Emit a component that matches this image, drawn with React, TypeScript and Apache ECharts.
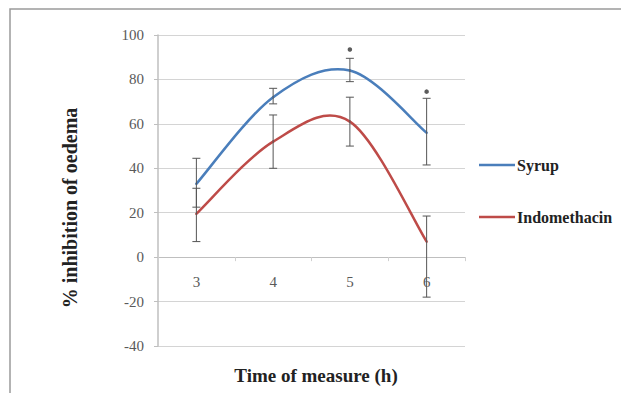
import React, { useEffect, useRef } from "react";
import * as echarts from "echarts";

const categories = ["3", "4", "5", "6"];
const syrupMean = [33, 72, 84, 56];
const syrupLow = [22.5, 69, 79, 41.5];
const syrupHigh = [44.5, 76, 89.5, 71.5];
const indoMean = [19.5, 52, 61, 7];
const indoLow = [7, 40, 50, -18];
const indoHigh = [31, 64, 72, 18.5];
const asteriskCats = ["5", "6"];
const asteriskValues = [93.5, 74.5];
const yTicks = { min: -40, max: 100, interval: 20 };

const SERIF = "'Liberation Serif', 'DejaVu Serif', serif";

// Excel-like smoothed line: Catmull-Rom segments drawn as bezier curves.
function smoothSeries(name: string, values: number[], color: string) {
  const n = values.length;
  const data = [];
  for (let i = 0; i < n - 1; i++) {
    data.push([
      i,
      values[Math.max(i - 1, 0)],
      values[i],
      values[i + 1],
      values[Math.min(i + 2, n - 1)],
      i === 0 ? 1 : 0,
      i + 2 > n - 1 ? 1 : 0,
    ]);
  }
  return {
    name,
    type: "custom",
    silent: true,
    z: 3,
    itemStyle: { color },
    data,
    renderItem: (params: any, api: any) => {
      const i = api.value(0);
      const firstSeg = api.value(5) === 1;
      const lastSeg = api.value(6) === 1;
      const p1 = api.coord([i, api.value(2)]);
      const p2 = api.coord([i + 1, api.value(3)]);
      const p0 = firstSeg ? p1 : api.coord([i - 1, api.value(1)]);
      const p3 = lastSeg ? p2 : api.coord([i + 2, api.value(4)]);
      const k = 1 / 6;
      return {
        type: "bezierCurve",
        shape: {
          x1: p1[0],
          y1: p1[1],
          cpx1: p1[0] + (p2[0] - p0[0]) * k,
          cpy1: p1[1] + (p2[1] - p0[1]) * k,
          cpx2: p2[0] - (p3[0] - p1[0]) * k,
          cpy2: p2[1] - (p3[1] - p1[1]) * k,
          x2: p2[0],
          y2: p2[1],
        },
        style: { fill: "none", stroke: color, lineWidth: 2.5, lineCap: "round" },
      };
    },
  };
}

function errorSeries(low: number[], high: number[]) {
  return {
    type: "custom",
    silent: true,
    z: 5,
    data: low.map((l, i) => [i, l, high[i]]),
    renderItem: (params: any, api: any) => {
      const x = api.value(0);
      const lo = api.coord([x, api.value(1)]);
      const hi = api.coord([x, api.value(2)]);
      const w = 4;
      const style = { stroke: "#555555", lineWidth: 1 };
      return {
        type: "group",
        children: [
          { type: "line", shape: { x1: lo[0], y1: lo[1], x2: hi[0], y2: hi[1] }, style },
          { type: "line", shape: { x1: hi[0] - w, y1: hi[1], x2: hi[0] + w, y2: hi[1] }, style },
          { type: "line", shape: { x1: lo[0] - w, y1: lo[1], x2: lo[0] + w, y2: lo[1] }, style },
        ],
      };
    },
  };
}

const GRID_TOP = 35;
const GRID_BOTTOM = 47;
const CHART_H = 393;

export default function App() {
  const ref = useRef<HTMLDivElement>(null);
  useEffect(() => {
    const chart = echarts.init(ref.current!, undefined, { renderer: "svg" });
    const gridH = CHART_H - GRID_TOP - GRID_BOTTOM;
    const zeroOffset = -(gridH * (0 - yTicks.min)) / (yTicks.max - yTicks.min);
    chart.setOption({
      animation: false,
      backgroundColor: "#ffffff",
      grid: { left: 158, right: 156, top: GRID_TOP, bottom: GRID_BOTTOM },
      xAxis: {
        type: "category",
        data: categories,
        position: "bottom",
        offset: zeroOffset,
        axisLine: { onZero: false, lineStyle: { color: "#bfbfbf", width: 1 } },
        axisTick: { show: true, length: 4, lineStyle: { color: "#d0d0d0" } },
        axisLabel: { color: "#595959", fontFamily: SERIF, fontSize: 15, margin: 17 },
        splitLine: { show: false },
      },
      yAxis: {
        type: "value",
        min: yTicks.min,
        max: yTicks.max,
        interval: yTicks.interval,
        axisLine: { show: true, lineStyle: { color: "#bfbfbf", width: 1.5 } },
        axisTick: { show: true, length: 4, lineStyle: { color: "#bfbfbf" } },
        axisLabel: { color: "#595959", fontFamily: SERIF, fontSize: 15, margin: 14 },
        splitLine: { show: true, lineStyle: { color: "#d4d4d4", width: 1.2 } },
      },
      legend: {
        data: ["Syrup", "Indomethacin"],
        orient: "vertical",
        left: 474,
        top: 151,
        icon: "rect",
        itemWidth: 36,
        itemHeight: 2.5,
        itemGap: 34,
        textStyle: {
          fontFamily: SERIF,
          fontWeight: "bold",
          fontSize: 16,
          color: "#222222",
          lineHeight: 18,
          padding: [0, 0, 0, -3],
        },
      },
      series: [
        smoothSeries("Syrup", syrupMean, "#4a7ebb"),
        smoothSeries("Indomethacin", indoMean, "#be4b48"),
        errorSeries(syrupLow, syrupHigh),
        errorSeries(indoLow, indoHigh),
        {
          type: "scatter",
          data: asteriskCats.map((c, i) => [c, asteriskValues[i]]),
          symbol: "circle",
          symbolSize: 4.5,
          itemStyle: { color: "#333333" },
          silent: true,
          z: 6,
        },
      ],
      graphic: [
        {
          type: "rect",
          shape: { x: 10, y: 9, width: 640, height: 420 },
          style: { fill: "none", stroke: "#9a9a9a", lineWidth: 1.5 },
          silent: true,
          z: -1,
        },
        {
          type: "text",
          x: 70,
          y: 208,
          rotation: Math.PI / 2,
          style: {
            text: "% inhibition of oedema",
            fontFamily: SERIF,
            fontWeight: "bold",
            fontSize: 20,
            fill: "#222222",
            align: "center",
            verticalAlign: "middle",
          },
        },
        {
          type: "text",
          x: 316,
          y: 375,
          style: {
            text: "Time of measure (h)",
            fontFamily: SERIF,
            fontWeight: "bold",
            fontSize: 19,
            fill: "#222222",
            align: "center",
            verticalAlign: "middle",
          },
        },
      ],
    });
    return () => chart.dispose();
  }, []);
  return (
    <div
      ref={ref}
      style={{ position: "fixed", left: 0, top: 0, width: 621, height: 393 }}
    />
  );
}
